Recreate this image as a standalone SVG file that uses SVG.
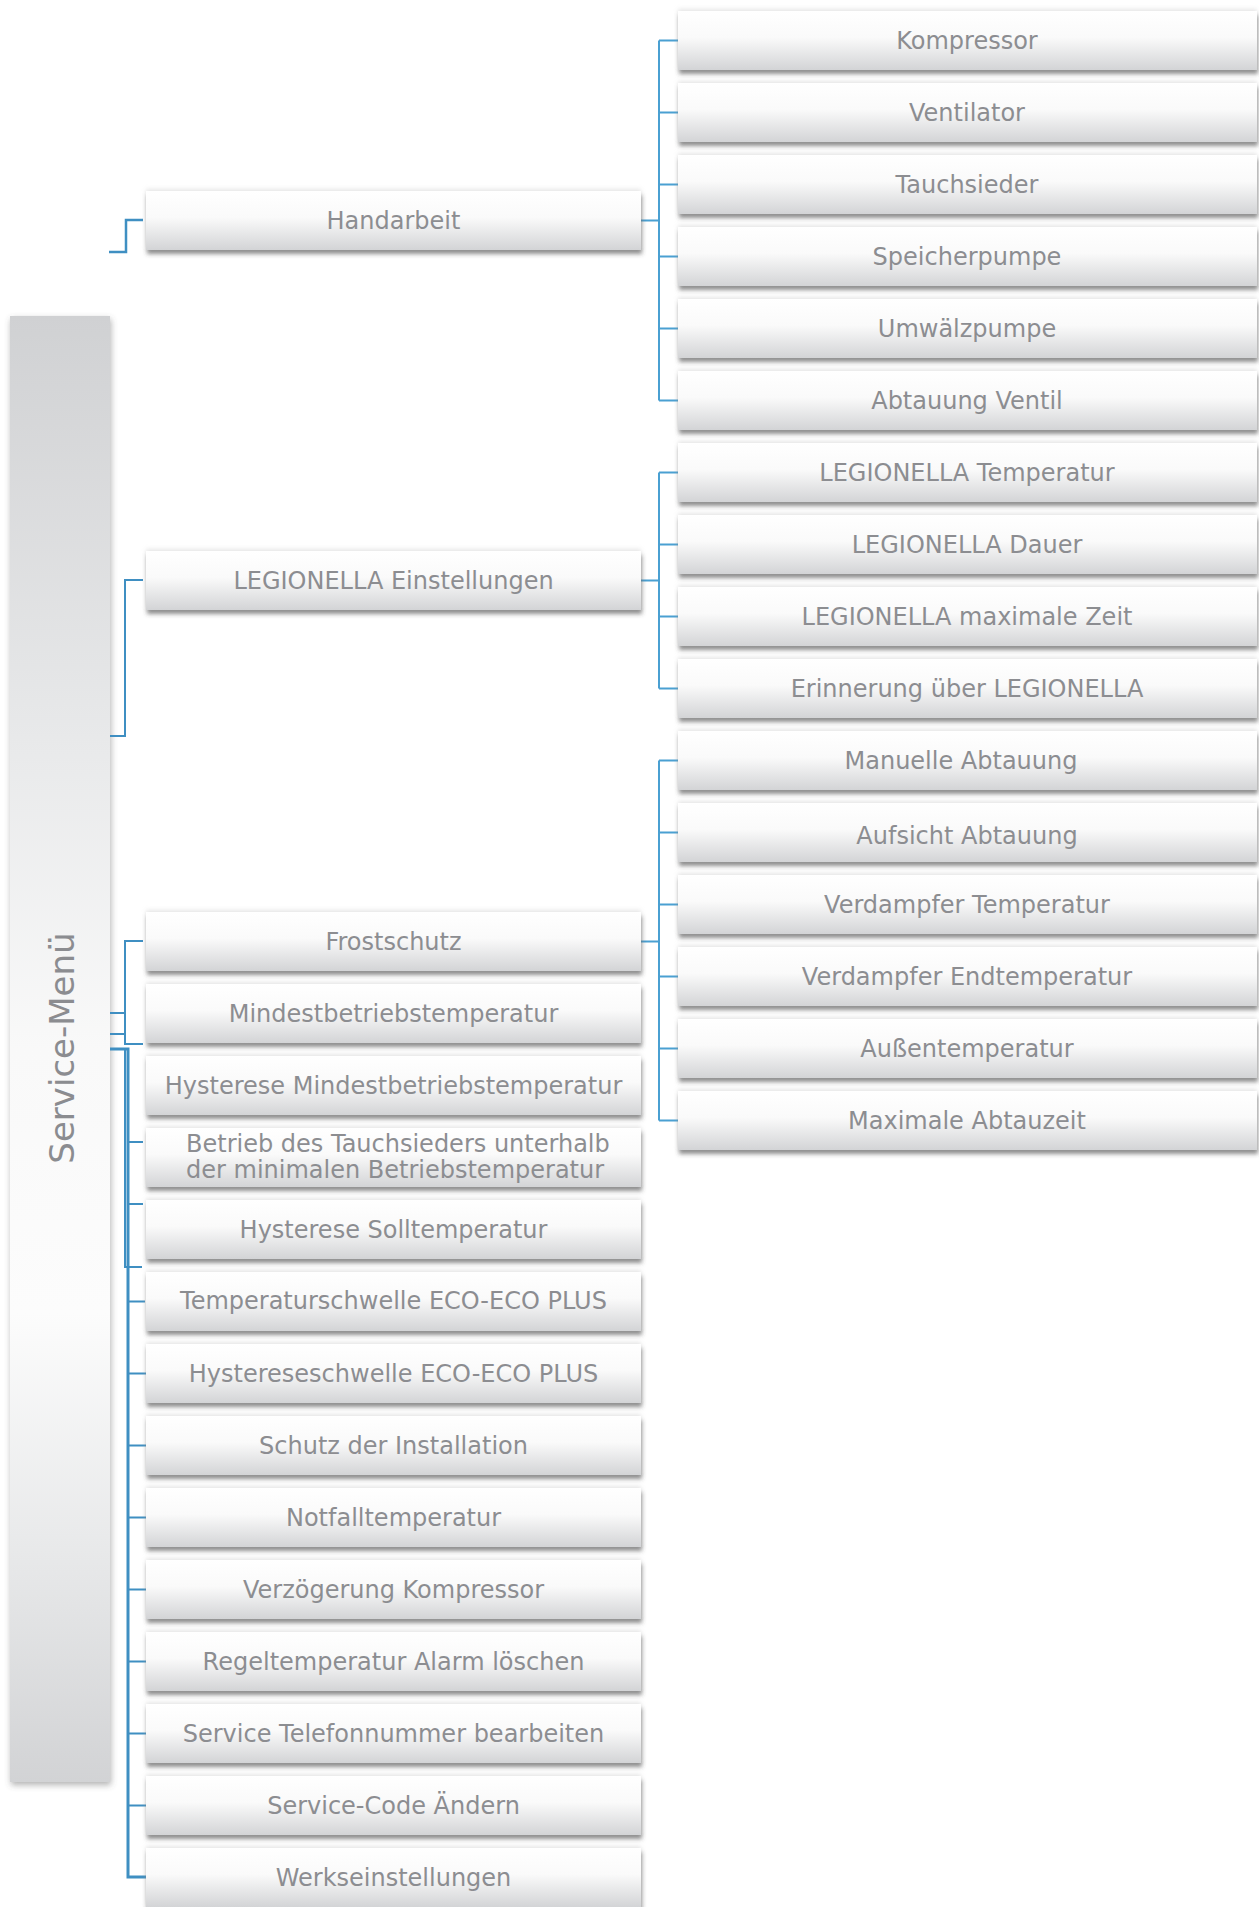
<svg xmlns="http://www.w3.org/2000/svg" width="1259" height="1907" viewBox="0 0 1259 1907">
<defs>
<linearGradient id="boxGrad" x1="0" y1="0" x2="0" y2="1">
<stop offset="0" stop-color="#ffffff"/>
<stop offset="0.45" stop-color="#fafafa"/>
<stop offset="1" stop-color="#d3d4d6"/>
</linearGradient>
<linearGradient id="barGrad" x1="0" y1="0" x2="0" y2="1">
<stop offset="0" stop-color="#d0d1d3"/>
<stop offset="0.3" stop-color="#e9eaeb"/>
<stop offset="0.5" stop-color="#f9f9f9"/>
<stop offset="0.68" stop-color="#fcfcfc"/>
<stop offset="0.85" stop-color="#e7e8e9"/>
<stop offset="1" stop-color="#d2d3d5"/>
</linearGradient>
<filter id="shadow" x="-5%" y="-30%" width="112%" height="170%">
<feGaussianBlur in="SourceAlpha" stdDeviation="2" result="b"/>
<feOffset in="b" dx="1" dy="4" result="o1"/>
<feFlood flood-color="#444" flood-opacity="0.6"/>
<feComposite in2="o1" operator="in" result="s1"/>
<feOffset in="b" dx="0" dy="-2" result="o2"/>
<feFlood flood-color="#bbb" flood-opacity="0.35"/>
<feComposite in2="o2" operator="in" result="s2"/>
<feMerge><feMergeNode in="s2"/><feMergeNode in="s1"/><feMergeNode in="SourceGraphic"/></feMerge>
</filter>
<filter id="barShadow" x="-20%" y="-5%" width="140%" height="110%">
<feGaussianBlur in="SourceAlpha" stdDeviation="3" result="b"/>
<feOffset in="b" dx="1" dy="3" result="o"/>
<feFlood flood-color="#555" flood-opacity="0.45"/>
<feComposite in2="o" operator="in" result="s"/>
<feMerge><feMergeNode in="s"/><feMergeNode in="SourceGraphic"/></feMerge>
</filter>
</defs>
<style>
.box{fill:url(#boxGrad);filter:url(#shadow)}
.lbl{font-family:"DejaVu Sans",Verdana,sans-serif;font-size:24px;fill:#8c8d91;text-anchor:middle}
.c1{fill:none;stroke:#4aa0d2;stroke-width:2}
.c2{fill:none;stroke:#3f8fc2;stroke-width:2}
.c3{fill:none;stroke:#3f8fc2;stroke-width:3}
</style>
<rect width="1259" height="1907" fill="#ffffff"/>

<g id="service-menu">
<rect x="10" y="316" width="100" height="1466" fill="url(#barGrad)" filter="url(#barShadow)"/>
<text transform="translate(74,1048) rotate(-90)" style="font-family:'DejaVu Sans',Verdana,sans-serif;font-size:34px;fill:#8b8c90;text-anchor:middle">Service-Menü</text>
</g>

<g id="connectors">
<path class="c1" d="M641,220.5H659 M659,40.5V400.5 M659,40.5H678 M659,112.5H678 M659,184.5H678 M659,256.5H678 M659,328.5H678 M659,400.5H678"/>
<path class="c1" d="M641,580.5H659 M659,472.5V688.5 M659,472.5H678 M659,544.5H678 M659,616.5H678 M659,688.5H678"/>
<path class="c1" d="M641,941.5H659 M659,760.5V1120.5 M659,760.5H678 M659,832.5H678 M659,904.5H678 M659,976.5H678 M659,1048.5H678 M659,1120.5H678"/>
<path class="c2" style="stroke-width:2.5" d="M109,252H126V220H143"/>
<path class="c2" d="M110,736H125V580H143"/>
<path class="c2" d="M143,941H125V1044H143 M110,1013H125 M110,1034H125"/>
<path class="c2" d="M125,1049V1267H142"/>
<path class="c3" d="M110,1049H129.5 M128,1049V1877H146"/>
<path class="c2" d="M128,1142H143 M128,1204H143 M128,1301.5H145 M128,1373.5H146 M128,1445.5H146 M128,1517.5H146 M128,1589.5H146 M128,1661.5H146 M128,1733.5H146 M128,1805.5H146"/>
</g>

<g id="handarbeit"><rect class="box" x="146" y="191" width="495" height="59"/><text class="lbl" x="393.5" y="229">Handarbeit</text></g>
<g id="legionella-einstellungen"><rect class="box" x="146" y="551" width="495" height="59"/><text class="lbl" x="393.5" y="589">LEGIONELLA Einstellungen</text></g>
<g id="frostschutz"><rect class="box" x="146" y="912" width="495" height="59"/><text class="lbl" x="393.5" y="950">Frostschutz</text></g>
<g id="mindestbetriebstemperatur"><rect class="box" x="146" y="984" width="495" height="59"/><text class="lbl" x="393.5" y="1022">Mindestbetriebstemperatur</text></g>
<g id="hysterese-mindest"><rect class="box" x="146" y="1056" width="495" height="59"/><text class="lbl" x="393.5" y="1094">Hysterese Mindestbetriebstemperatur</text></g>
<g id="betrieb-tauchsieder"><rect class="box" x="146" y="1128" width="495" height="59"/><text class="lbl" style="text-anchor:start" x="186" y="1152">Betrieb des Tauchsieders unterhalb</text><text class="lbl" style="text-anchor:start" x="186" y="1178">der minimalen Betriebstemperatur</text></g>
<g id="hysterese-soll"><rect class="box" x="146" y="1200" width="495" height="59"/><text class="lbl" x="393.5" y="1238">Hysterese Solltemperatur</text></g>
<g id="temperaturschwelle"><rect class="box" x="146" y="1272" width="495" height="59"/><text class="lbl" x="393.5" y="1309">Temperaturschwelle ECO-ECO PLUS</text></g>
<g id="hystereseschwelle"><rect class="box" x="146" y="1344" width="495" height="59"/><text class="lbl" x="393.5" y="1382">Hystereseschwelle ECO-ECO PLUS</text></g>
<g id="schutz"><rect class="box" x="146" y="1416" width="495" height="59"/><text class="lbl" x="393.5" y="1454">Schutz der Installation</text></g>
<g id="notfalltemperatur"><rect class="box" x="146" y="1488" width="495" height="59"/><text class="lbl" x="393.5" y="1526">Notfalltemperatur</text></g>
<g id="verzoegerung"><rect class="box" x="146" y="1560" width="495" height="59"/><text class="lbl" x="393.5" y="1598">Verzögerung Kompressor</text></g>
<g id="regeltemperatur"><rect class="box" x="146" y="1632" width="495" height="59"/><text class="lbl" x="393.5" y="1670">Regeltemperatur Alarm löschen</text></g>
<g id="telefonnummer"><rect class="box" x="146" y="1704" width="495" height="59"/><text class="lbl" x="393.5" y="1742">Service Telefonnummer bearbeiten</text></g>
<g id="service-code"><rect class="box" x="146" y="1776" width="495" height="59"/><text class="lbl" x="393.5" y="1814">Service-Code Ändern</text></g>
<g id="werkseinstellungen"><rect class="box" x="146" y="1848" width="495" height="59"/><text class="lbl" x="393.5" y="1886">Werkseinstellungen</text></g>

<g id="kompressor"><rect class="box" x="678" y="11" width="579" height="59"/><text class="lbl" x="967" y="49">Kompressor</text></g>
<g id="ventilator"><rect class="box" x="678" y="83" width="579" height="59"/><text class="lbl" x="967" y="121">Ventilator</text></g>
<g id="tauchsieder"><rect class="box" x="678" y="155" width="579" height="59"/><text class="lbl" x="967" y="193">Tauchsieder</text></g>
<g id="speicherpumpe"><rect class="box" x="678" y="227" width="579" height="59"/><text class="lbl" x="967" y="265">Speicherpumpe</text></g>
<g id="umwaelzpumpe"><rect class="box" x="678" y="299" width="579" height="59"/><text class="lbl" x="967" y="337">Umwälzpumpe</text></g>
<g id="abtauung-ventil"><rect class="box" x="678" y="371" width="579" height="59"/><text class="lbl" x="967" y="409">Abtauung Ventil</text></g>
<g id="legionella-temperatur"><rect class="box" x="678" y="443" width="579" height="59"/><text class="lbl" x="967" y="481">LEGIONELLA Temperatur</text></g>
<g id="legionella-dauer"><rect class="box" x="678" y="515" width="579" height="59"/><text class="lbl" x="967" y="553">LEGIONELLA Dauer</text></g>
<g id="legionella-max"><rect class="box" x="678" y="587" width="579" height="59"/><text class="lbl" x="967" y="625">LEGIONELLA maximale Zeit</text></g>
<g id="erinnerung"><rect class="box" x="678" y="659" width="579" height="59"/><text class="lbl" x="967" y="697">Erinnerung über LEGIONELLA</text></g>
<g id="manuelle-abtauung"><rect class="box" x="678" y="731" width="579" height="59"/><text class="lbl" x="961" y="769">Manuelle Abtauung</text></g>
<g id="aufsicht-abtauung"><rect class="box" x="678" y="803" width="579" height="59"/><text class="lbl" x="967" y="844">Aufsicht Abtauung</text></g>
<g id="verdampfer-temperatur"><rect class="box" x="678" y="875" width="579" height="59"/><text class="lbl" x="967" y="913">Verdampfer Temperatur</text></g>
<g id="verdampfer-end"><rect class="box" x="678" y="947" width="579" height="59"/><text class="lbl" x="967" y="985">Verdampfer Endtemperatur</text></g>
<g id="aussentemperatur"><rect class="box" x="678" y="1019" width="579" height="59"/><text class="lbl" x="967" y="1057">Außentemperatur</text></g>
<g id="maximale-abtauzeit"><rect class="box" x="678" y="1091" width="579" height="59"/><text class="lbl" x="967" y="1129">Maximale Abtauzeit</text></g>
</svg>
